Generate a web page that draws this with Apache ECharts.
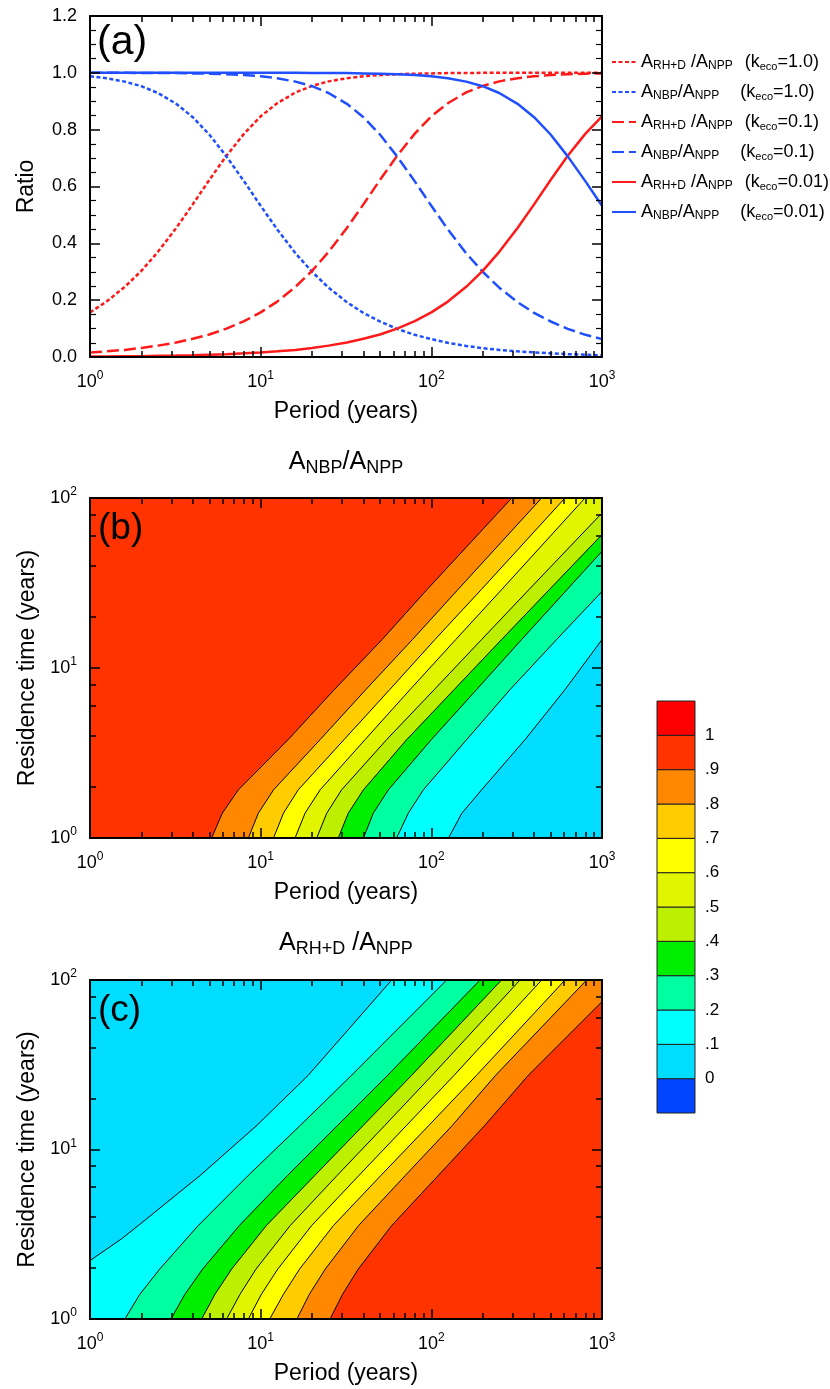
<!DOCTYPE html>
<html>
<head>
<meta charset="utf-8">
<title>Amplitude ratios</title>
<script src="https://cdn.jsdelivr.net/npm/echarts@6/dist/echarts.min.js"></script>
<style>
  html, body { margin: 0; padding: 0; background: #fff; }
  #main { width: 830px; height: 1389px; }
</style>
</head>
<body>
<div id="main"></div>
<script>
// ---- panel (a): ratio vs period ----
const periods = [1, 1.25, 1.6, 2, 2.5, 3.2, 4, 5, 6.3, 8, 10, 12.5, 16, 20, 25, 32, 40, 50, 63, 80,
  100, 125, 160, 200, 250, 320, 400, 500, 630, 800, 1000]
const rhK1 = [0.157, 0.195, 0.247, 0.303, 0.370, 0.454, 0.537, 0.623, 0.708, 0.786, 0.847, 0.893, 0.931, 0.954, 0.970, 0.981, 0.988, 0.992, 0.995, 0.997,
  0.998, 0.999, 0.999, 1.0, 1.0, 1.0, 1.0, 1.0, 1.0, 1.0, 1.0]
const nbpK1 = [0.988, 0.981, 0.969, 0.953, 0.929, 0.891, 0.844, 0.783, 0.706, 0.618, 0.532, 0.449, 0.365, 0.300, 0.244, 0.193, 0.155, 0.125, 0.099, 0.078,
  0.063, 0.050, 0.039, 0.031, 0.025, 0.020, 0.016, 0.013, 0.010, 0.008, 0.006]
const rhK01 = [0.016, 0.020, 0.025, 0.032, 0.040, 0.051, 0.064, 0.079, 0.100, 0.126, 0.157, 0.195, 0.247, 0.303, 0.370, 0.454, 0.537, 0.623, 0.708, 0.786,
  0.847, 0.893, 0.931, 0.954, 0.970, 0.981, 0.988, 0.992, 0.995, 0.997, 0.998]
const nbpK01 = [1.0, 1.0, 1.0, 0.999, 0.999, 0.999, 0.998, 0.997, 0.995, 0.992, 0.988, 0.981, 0.969, 0.953, 0.929, 0.891, 0.844, 0.783, 0.706, 0.618,
  0.532, 0.449, 0.365, 0.300, 0.244, 0.193, 0.155, 0.125, 0.099, 0.078, 0.063]
const rhK001 = [0.002, 0.002, 0.003, 0.003, 0.004, 0.005, 0.006, 0.008, 0.010, 0.013, 0.016, 0.020, 0.025, 0.032, 0.040, 0.051, 0.064, 0.079, 0.100, 0.126,
  0.157, 0.195, 0.247, 0.303, 0.370, 0.454, 0.537, 0.623, 0.708, 0.786, 0.847]
const nbpK001 = [1.0, 1.0, 1.0, 1.0, 1.0, 1.0, 1.0, 1.0, 1.0, 1.0, 1.0, 1.0, 1.0, 0.999, 0.999, 0.999, 0.998, 0.997, 0.995, 0.992,
  0.988, 0.981, 0.969, 0.953, 0.929, 0.891, 0.844, 0.783, 0.706, 0.618, 0.532]

// ---- panel (b): A_NBP/A_NPP contour lines, [period, residence time] ----
const nbpLevels = [0.9, 0.8, 0.7, 0.6, 0.5, 0.4, 0.3, 0.2, 0.1]
const nbpContours = [
  [[5.16, 1], [5.96, 1.4], [7.4, 1.92], [14.5, 3.79], [27, 7.46], [51.5, 14.7], [94.3, 28.9], [296, 100]],
  [[8.47, 1], [9.69, 1.4], [11.9, 1.92], [22.3, 3.79], [41.3, 7.46], [77.5, 14.7], [143, 28.9], [443, 100]],
  [[11.9, 1], [13.6, 1.4], [16.6, 1.92], [30.8, 3.79], [57, 7.46], [105, 14.7], [196, 28.9], [607, 100]],
  [[15.9, 1], [18.2, 1.4], [22.3, 1.92], [40.9, 3.79], [75, 7.46], [139, 14.7], [258, 28.9], [795, 100]],
  [[21.3, 1], [24.4, 1.4], [29.8, 1.92], [54.7, 3.79], [104, 7.46], [197, 14.7], [373, 28.9], [1000, 81.6]],
  [[28.5, 1], [32.6, 1.4], [40, 1.92], [71.7, 3.79], [136, 7.46], [258, 14.7], [491, 28.9], [1000, 60.9]],
  [[40, 1], [45.7, 1.4], [56, 1.92], [100, 3.79], [184, 7.46], [338, 14.7], [624, 28.9], [1000, 48.6]],
  [[62.6, 1], [73.3, 1.4], [89.8, 1.92], [161, 3.79], [289, 7.46], [542, 14.7], [1000, 28.2]],
  [[126, 1], [151, 1.4], [197, 1.92], [354, 3.79], [607, 7.46], [1000, 14.7]]
]

// ---- panel (c): A_RH+D/A_NPP contour lines ----
const rhLevels = [0.1, 0.2, 0.3, 0.4, 0.5, 0.6, 0.7, 0.8, 0.9]
const rhContours = [
  [[1, 2.21], [1.53, 2.97], [1.92, 3.56], [4.43, 7.04], [9.52, 13.9], [19, 27.4], [58.6, 100]],
  [[1.6, 1], [1.96, 1.4], [2.56, 1.97], [4.31, 3.56], [8.47, 7.04], [17.1, 13.9], [34.1, 27.4], [123, 100]],
  [[2.98, 1], [3.6, 1.4], [4.57, 1.97], [7.5, 3.56], [14.4, 7.04], [28.3, 13.9], [55.5, 27.4], [193, 100]],
  [[4.51, 1], [5.4, 1.4], [6.76, 1.97], [10.8, 3.56], [20.8, 7.04], [40, 13.9], [76.7, 27.4], [258, 100]],
  [[6.32, 1], [7.57, 1.4], [9.39, 1.97], [14.9, 3.56], [28.1, 7.04], [53.5, 13.9], [101, 27.4], [331, 100]],
  [[8.47, 1], [10.1, 1.4], [12.6, 1.97], [19.9, 3.56], [37.7, 7.04], [71.7, 13.9], [136, 27.4], [443, 100]],
  [[11.3, 1], [13.6, 1.4], [16.9, 1.97], [26.7, 3.56], [50.7, 7.04], [96.9, 13.9], [184, 27.4], [607, 100]],
  [[16.3, 1], [19.3, 1.4], [23.9, 1.97], [37.5, 3.56], [70.5, 7.04], [133, 13.9], [238, 27.4], [813, 100]],
  [[25.5, 1], [30.2, 1.4], [37.3, 1.97], [58.6, 3.56], [110, 7.04], [206, 13.9], [370, 27.4], [1000, 74.5]]
]

// colour bar: band edges and one colour per band (<0 ... >1)
const cbEdges = [-0.1, 0, 0.1, 0.2, 0.3, 0.4, 0.5, 0.6, 0.7, 0.8, 0.9, 1, 1.1]
const bandColors = ['#0044ff', '#00ddff', '#00ffff', '#00ffa0', '#00ee00', '#bdf000',
  '#e2f500', '#ffff00', '#ffcc00', '#ff8800', '#ff3300', '#ff0000']

// axis ticks
const majorP = [1, 10, 100, 1000]
const minorP = [2, 3, 4, 5, 6, 7, 8, 9, 20, 30, 40, 50, 60, 70, 80, 90, 200, 300, 400, 500, 600, 700, 800, 900]
const majorT = [1, 10, 100]
const minorT = [2, 4, 6, 8, 20, 40, 60, 80]

const FONT = 'Liberation Sans, Arial, Helvetica, sans-serif'
const RED = '#ff1a1a'
const BLUE = '#1f4fff'

let powRich = {
  n: {fontFamily: FONT, fontSize: 18, color: '#000', lineHeight: 24},
  e: {fontFamily: FONT, fontSize: 12, color: '#000', lineHeight: 13, verticalAlign: 'top'}
}
function powLabel (v) {
  return '{n|10}{e|' + Math.round(Math.log10(v)) + '}'
}
let nameStyle = {fontFamily: FONT, fontSize: 23, color: '#000'}

// one log axis (major or minor ticks) of a contour/line panel
function logAxis (grid, position, range, ticks, labels, len, frame, name) {
  return {
    type: 'log',
    logBase: 10,
    gridIndex: grid,
    position: position,
    min: range[0],
    max: range[1],
    z: 5,
    axisLine: {show: frame, onZero: false, lineStyle: {color: '#000', width: 2}},
    splitLine: {show: false},
    axisTick: {show: true, inside: true, length: len, customValues: ticks, lineStyle: {color: '#000', width: 1.5}},
    axisLabel: labels ? {show: true, customValues: labels, formatter: powLabel, rich: powRich, margin: 13} : {show: false},
    name: name || '',
    nameLocation: 'middle',
    nameGap: (position === 'left') ? 50 : 43,
    nameTextStyle: nameStyle
  }
}
function panelX (grid, withName) {
  let r = [1, 1000]
  return [
    logAxis(grid, 'bottom', r, majorP, majorP, 10, true, withName ? 'Period (years)' : ''),
    logAxis(grid, 'bottom', r, minorP, null, 6, false),
    logAxis(grid, 'top', r, majorP, null, 10, true),
    logAxis(grid, 'top', r, minorP, null, 6, false)
  ]
}
function panelYLog (grid) {
  let r = [1, 100]
  return [
    logAxis(grid, 'left', r, majorT, majorT, 10, true, 'Residence time (years)'),
    logAxis(grid, 'left', r, minorT, null, 6, false),
    logAxis(grid, 'right', r, majorT, null, 10, true),
    logAxis(grid, 'right', r, minorT, null, 6, false)
  ]
}
function ratioAxis (position) {
  return {
    type: 'value',
    gridIndex: 0,
    position: position,
    min: 0,
    max: 1.2,
    interval: 0.2,
    z: 5,
    axisLine: {show: true, onZero: false, lineStyle: {color: '#000', width: 2}},
    splitLine: {show: false},
    axisTick: {show: true, inside: true, length: 10, lineStyle: {color: '#000', width: 1.5}},
    minorTick: {show: true, splitNumber: 4, length: 6, lineStyle: {color: '#000', width: 1.2}},
    axisLabel: position === 'left'
      ? {show: true, margin: 13, formatter: (v) => v.toFixed(1), fontFamily: FONT, fontSize: 18, color: '#000'}
      : {show: false},
    name: position === 'left' ? 'Ratio' : '',
    nameLocation: 'middle',
    nameGap: 52,
    nameTextStyle: nameStyle
  }
}

// filled contour bands: background first, then the area right of each line
function contourSeries (xIdx, yIdx, contours, levels, baseBand, shift) {
  return {
    type: 'custom',
    xAxisIndex: xIdx,
    yAxisIndex: yIdx,
    clip: true,
    silent: true,
    z: 2,
    data: [[1, 1]].concat(levels.map(() => [1, 1])),
    renderItem: (params, api) => {
      let k = params.dataIndex
      if (k === 0) {
        let a = api.coord([1, 100])
        let b = api.coord([1000, 1])
        return {type: 'rect', shape: {x: a[0], y: a[1], width: b[0] - a[0], height: b[1] - a[1]}, style: {fill: bandColors[baseBand]}}
      }
      let line = contours[k - 1]
      let first = line[0]
      let last = line[line.length - 1]
      let pts = line.slice()
      if (last[1] >= 100) pts.push([1000, 100])
      pts.push([1000, 1])
      if (first[0] <= 1) pts.push([1, 1])
      let band = Math.round(levels[k - 1] * 10) + shift
      return {
        type: 'group',
        children: [
          {type: 'polygon', shape: {points: pts.map(p => api.coord(p))}, style: {fill: bandColors[band]}},
          {type: 'polyline', shape: {points: line.map(p => api.coord(p))}, style: {stroke: '#000', lineWidth: 1, fill: null}}
        ]
      }
    }
  }
}

function lineSeries (name, values, color, dash) {
  return {
    name: name,
    type: 'line',
    xAxisIndex: 0,
    yAxisIndex: 0,
    symbol: 'none',
    smooth: false,
    z: 3,
    lineStyle: {color: color, width: 2.5, type: dash},
    itemStyle: {color: color},
    data: periods.map((p, i) => [p, values[i]])
  }
}

let legendText = {
  rh1: '{a|A}{s|RH+D}{a| /A}{s|NPP}{g1| }{a|(k}{t|eco}{a|=1.0)}',
  nbp1: '{a|A}{s|NBP}{a|/A}{s|NPP}{g2| }{a|(k}{t|eco}{a|=1.0)}',
  rh01: '{a|A}{s|RH+D}{a| /A}{s|NPP}{g1| }{a|(k}{t|eco}{a|=0.1)}',
  nbp01: '{a|A}{s|NBP}{a|/A}{s|NPP}{g2| }{a|(k}{t|eco}{a|=0.1)}',
  rh001: '{a|A}{s|RH+D}{a| /A}{s|NPP}{g1| }{a|(k}{t|eco}{a|=0.01)}',
  nbp001: '{a|A}{s|NBP}{a|/A}{s|NPP}{g2| }{a|(k}{t|eco}{a|=0.01)}'
}
let titleRich = {
  a: {fontFamily: FONT, fontSize: 25, color: '#000', lineHeight: 30},
  s: {fontFamily: FONT, fontSize: 18, color: '#000', lineHeight: 18, verticalAlign: 'bottom'}
}

let myChart = echarts.init(document.getElementById('main'))
myChart.setOption({
  animation: false,
  backgroundColor: '#fff',
  textStyle: {fontFamily: FONT},
  grid: [
    {left: 90, top: 16, width: 512, height: 341, outerBoundsMode: 'none'},
    {left: 90, top: 498, width: 512, height: 340, outerBoundsMode: 'none'},
    {left: 90, top: 980, width: 512, height: 339, outerBoundsMode: 'none'},
    {left: 657, top: 701, width: 38, height: 412, outerBoundsMode: 'none'}
  ],
  legend: {
    orient: 'vertical',
    left: 611,
    top: 53,
    padding: 0,
    itemWidth: 24,
    itemHeight: 14,
    itemGap: 11,
    selectedMode: false,
    itemStyle: {opacity: 0},
    data: ['rh1', 'nbp1', 'rh01', 'nbp01', 'rh001', 'nbp001'],
    formatter: (n) => legendText[n],
    textStyle: {
      color: '#000',
      rich: {
        a: {fontFamily: FONT, fontSize: 18, color: '#000', lineHeight: 20},
        s: {fontFamily: FONT, fontSize: 12, color: '#000', lineHeight: 12, verticalAlign: 'bottom'},
        t: {fontFamily: FONT, fontSize: 11, color: '#000', lineHeight: 11, verticalAlign: 'bottom'},
        g1: {width: 12},
        g2: {width: 21}
      }
    }
  },
  graphic: [
    {type: 'text', x: 97, y: 22, z: 10, style: {text: '(a)', fontFamily: FONT, fontSize: 41, fill: '#000'}},
    {type: 'text', x: 98, y: 510, z: 10, style: {text: '(b)', fontFamily: FONT, fontSize: 37, fill: '#000'}},
    {type: 'text', x: 98, y: 992, z: 10, style: {text: '(c)', fontFamily: FONT, fontSize: 37, fill: '#000'}},
    {type: 'text', x: 346, y: 462, z: 10, style: {text: '{a|A}{s|NBP}{a|/A}{s|NPP}', rich: titleRich, align: 'center', verticalAlign: 'middle'}},
    {type: 'text', x: 346, y: 943, z: 10, style: {text: '{a|A}{s|RH+D}{a| /A}{s|NPP}', rich: titleRich, align: 'center', verticalAlign: 'middle'}}
  ],
  xAxis: [].concat(panelX(0, true), panelX(1, true), panelX(2, true), [
    {type: 'value', gridIndex: 3, min: 0, max: 1, show: false}
  ]),
  yAxis: [ratioAxis('left'), ratioAxis('right')].concat(panelYLog(1), panelYLog(2), [
    {
      type: 'value',
      gridIndex: 3,
      position: 'right',
      min: -0.1,
      max: 1.1,
      interval: 0.1,
      axisLine: {show: false},
      axisTick: {show: false},
      splitLine: {show: false},
      axisLabel: {
        show: true,
        margin: 10,
        fontFamily: FONT,
        fontSize: 17,
        color: '#000',
        showMinLabel: true,
        showMaxLabel: true,
        formatter: (v) => {
          let n = Math.round(v * 10)
          if (n < 0 || n > 10) return ''
          if (n === 10) return '1'
          if (n === 0) return '0'
          return '.' + n
        }
      }
    }
  ]),
  series: [
    lineSeries('rh1', rhK1, RED, [4, 2.5]),
    lineSeries('nbp1', nbpK1, BLUE, [4, 2.5]),
    lineSeries('rh01', rhK01, RED, [12, 5]),
    lineSeries('nbp01', nbpK01, BLUE, [12, 5]),
    lineSeries('rh001', rhK001, RED, 'solid'),
    lineSeries('nbp001', nbpK001, BLUE, 'solid'),
    contourSeries(4, 2, nbpContours, nbpLevels, 10, 0),
    contourSeries(8, 6, rhContours, rhLevels, 1, 1),
    {
      type: 'custom',
      xAxisIndex: 12,
      yAxisIndex: 10,
      silent: true,
      data: bandColors.map((c, i) => [0, cbEdges[i]]),
      renderItem: (params, api) => {
        let i = params.dataIndex
        let a = api.coord([0, cbEdges[i + 1]])
        let b = api.coord([1, cbEdges[i]])
        return {
          type: 'rect',
          shape: {x: a[0], y: a[1], width: b[0] - a[0], height: b[1] - a[1]},
          style: {fill: bandColors[i], stroke: '#222', lineWidth: 1}
        }
      }
    }
  ]
})
</script>
</body>
</html>
